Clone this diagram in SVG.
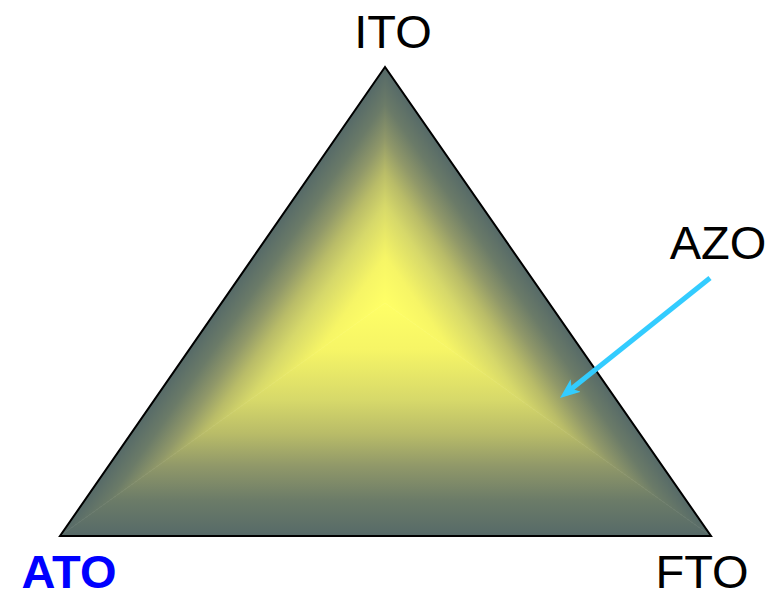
<svg xmlns="http://www.w3.org/2000/svg" width="783" height="598" viewBox="0 0 783 598">
  <style>
    .lbl { font-family: "Liberation Sans", Arial, sans-serif; font-size: 47px; fill: #000; text-anchor: middle; }
    .ato { font-weight: bold; fill: #0000ff; }
    .s0 { stop-color: #ffff66; }
    .s1 { stop-color: #f6f566; }
    .s2 { stop-color: #d6d86a; }
    .s3 { stop-color: #b9bc68; }
    .s4 { stop-color: #909869; }
    .s5 { stop-color: #6b7b68; }
    .s6 { stop-color: #566a68; }
  </style>
  <defs>
    <linearGradient id="gBottom" gradientUnits="userSpaceOnUse" x1="385" y1="303" x2="385" y2="536">
      <stop offset="0" class="s0"/>
      <stop offset="0.2" class="s1"/>
      <stop offset="0.42" class="s2"/>
      <stop offset="0.56" class="s3"/>
      <stop offset="0.7" class="s4"/>
      <stop offset="0.85" class="s5"/>
      <stop offset="1" class="s6"/>
    </linearGradient>
    <linearGradient id="gLeft" href="#gBottom" x1="385" y1="303" x2="274.9" y2="226.5"/>
    <linearGradient id="gRight" href="#gBottom" x1="385" y1="303" x2="495.2" y2="226.2"/>
    <marker id="arrowHead" viewBox="0 0 20 16" refX="10" refY="8" markerWidth="20" markerHeight="16" markerUnits="userSpaceOnUse" orient="auto">
      <path d="M0,0 L20,8 L0,16 L5,8 z" fill="#33ccff"/>
    </marker>
  </defs>

  <g id="triangle">
    <polygon points="385,67 60,536 385,303" fill="url(#gLeft)" stroke="url(#gLeft)" stroke-width="0.6"/>
    <polygon points="385,67 711,536 385,303" fill="url(#gRight)" stroke="url(#gRight)" stroke-width="0.6"/>
    <polygon points="60,536 711,536 385,303" fill="url(#gBottom)" stroke="url(#gBottom)" stroke-width="0.6"/>
    <polygon points="385,67 60,536 711,536" fill="none" stroke="#000" stroke-width="2" stroke-linejoin="miter"/>
  </g>

  <g id="label-ITO"><text class="lbl" x="393" y="48">ITO</text></g>
  <g id="label-AZO"><text class="lbl" x="718" y="259">AZO</text></g>
  <g id="label-ATO"><text class="lbl ato" x="69" y="588">ATO</text></g>
  <g id="label-FTO"><text class="lbl" x="702" y="588">FTO</text></g>

  <g id="connectors">
    <line x1="710" y1="278" x2="567.8" y2="391.75" stroke="#33ccff" stroke-width="5" marker-end="url(#arrowHead)"/>
  </g>
</svg>
